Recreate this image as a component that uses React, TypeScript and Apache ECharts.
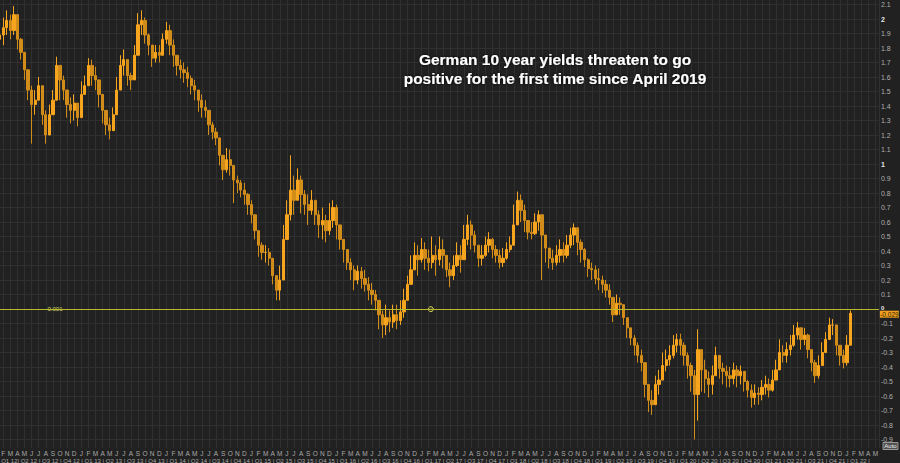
import React, { useEffect, useRef } from "react";
import * as echarts from "echarts";

// month index 0 = January 2012; candles are spaced half a month apart
const START_YEAR = 2012;
const STEP = 0.5;
const MONTH_LETTERS = ["J", "F", "M", "A", "M", "J", "J", "A", "S", "O", "N", "D"];

const TITLE_LINES = [
  "German 10 year yields threaten to go",
  "positive for the first time since April 2019",
];

const FIRST_OPEN = 1.8;
const LAST_VALUE = -0.029;
const REF_LINE = -0.001;
const REF_LABEL_MONTH = 8.15;
const REF_MARKER_MONTH = 61.3;

const closes = [
  1.86, 1.89, 1.94, 1.99, 1.92, 2.03, 1.86, 1.77, 1.65, 1.51,
  1.41, 1.44, 1.54, 1.34, 1.20, 1.34, 1.44, 1.68, 1.58, 1.51,
  1.41, 1.37, 1.42, 1.32, 1.48, 1.54, 1.68, 1.61, 1.58, 1.48,
  1.37, 1.27, 1.23, 1.34, 1.51, 1.68, 1.72, 1.61, 1.58, 1.75,
  1.96, 1.99, 1.89, 1.82, 1.73, 1.77, 1.75, 1.86, 1.92, 1.82,
  1.75, 1.68, 1.65, 1.63, 1.59, 1.54, 1.51, 1.44, 1.39, 1.37,
  1.27, 1.22, 1.18, 1.06, 0.96, 1.03, 0.99, 0.89, 0.87, 0.82,
  0.79, 0.72, 0.65, 0.54, 0.44, 0.39, 0.39, 0.35, 0.23, 0.13,
  0.20, 0.48, 0.65, 0.82, 0.75, 0.89, 0.79, 0.72, 0.68, 0.75,
  0.65, 0.58, 0.61, 0.54, 0.61, 0.70, 0.58, 0.48, 0.41, 0.32,
  0.27, 0.20, 0.26, 0.21, 0.17, 0.13, 0.10, 0.06, -0.04, -0.11,
  -0.06, -0.09, -0.04, -0.08, -0.02, 0.06, 0.17, 0.27, 0.37, 0.34,
  0.41, 0.35, 0.32, 0.37, 0.34, 0.41, 0.37, 0.27, 0.23, 0.30,
  0.37, 0.34, 0.48, 0.58, 0.51, 0.44, 0.35, 0.37, 0.44, 0.48,
  0.41, 0.37, 0.32, 0.35, 0.41, 0.44, 0.58, 0.75, 0.68, 0.61,
  0.53, 0.52, 0.60, 0.65, 0.51, 0.42, 0.35, 0.32, 0.37, 0.41,
  0.37, 0.44, 0.51, 0.56, 0.46, 0.41, 0.34, 0.28, 0.27, 0.21,
  0.20, 0.17, 0.13, 0.08, -0.04, 0.04, 0.03, -0.06, -0.13, -0.20,
  -0.25, -0.32, -0.37, -0.52, -0.63, -0.66, -0.52, -0.49, -0.39, -0.35,
  -0.32, -0.25, -0.21, -0.25, -0.32, -0.39, -0.46, -0.59, -0.28, -0.42,
  -0.48, -0.52, -0.46, -0.32, -0.41, -0.43, -0.46, -0.48, -0.42, -0.46,
  -0.43, -0.50, -0.56, -0.61, -0.58, -0.59, -0.54, -0.52, -0.56, -0.49,
  -0.42, -0.30, -0.32, -0.28, -0.25, -0.18, -0.13, -0.21, -0.18, -0.28,
  -0.37, -0.46, -0.39, -0.30, -0.21, -0.11, -0.11, -0.25, -0.32, -0.37,
  -0.25, -0.029,
];

const highs = [
  1.92, 1.96, 2.01, 2.06, 2.03, 2.09, 1.99, 1.87, 1.75, 1.65,
  1.54, 1.51, 1.60, 1.48, 1.37, 1.41, 1.51, 1.74, 1.68, 1.61,
  1.51, 1.46, 1.48, 1.41, 1.57, 1.61, 1.73, 1.72, 1.67, 1.56,
  1.44, 1.35, 1.32, 1.39, 1.60, 1.75, 1.79, 1.72, 1.63, 1.82,
  2.04, 2.06, 2.01, 1.90, 1.80, 1.82, 1.82, 1.90, 1.98, 1.96,
  1.86, 1.74, 1.72, 1.70, 1.67, 1.61, 1.58, 1.49, 1.48, 1.44,
  1.32, 1.29, 1.25, 1.14, 1.06, 1.11, 1.10, 0.96, 0.92, 0.89,
  0.87, 0.80, 0.75, 0.60, 0.51, 0.46, 0.44, 0.42, 0.32, 0.21,
  0.30, 0.58, 0.75, 1.06, 0.92, 0.97, 0.92, 0.82, 0.79, 0.82,
  0.72, 0.68, 0.70, 0.65, 0.73, 0.75, 0.72, 0.56, 0.48, 0.41,
  0.35, 0.30, 0.30, 0.29, 0.27, 0.22, 0.18, 0.13, 0.04, -0.01,
  0.03, -0.01, 0.03, 0.03, 0.06, 0.14, 0.23, 0.37, 0.46, 0.44,
  0.49, 0.46, 0.41, 0.50, 0.44, 0.50, 0.48, 0.37, 0.32, 0.37,
  0.46, 0.44, 0.58, 0.65, 0.61, 0.54, 0.44, 0.44, 0.50, 0.53,
  0.49, 0.44, 0.41, 0.42, 0.46, 0.50, 0.72, 0.81, 0.79, 0.72,
  0.61, 0.60, 0.66, 0.68, 0.61, 0.51, 0.42, 0.41, 0.44, 0.48,
  0.46, 0.51, 0.56, 0.59, 0.56, 0.48, 0.42, 0.35, 0.32, 0.30,
  0.28, 0.23, 0.20, 0.17, 0.06, 0.10, 0.08, 0.03, -0.06, -0.13,
  -0.18, -0.23, -0.28, -0.42, -0.52, -0.56, -0.46, -0.42, -0.30, -0.28,
  -0.25, -0.18, -0.17, -0.17, -0.23, -0.30, -0.37, -0.42, -0.14, -0.30,
  -0.35, -0.43, -0.39, -0.26, -0.32, -0.37, -0.39, -0.40, -0.37, -0.39,
  -0.39, -0.43, -0.49, -0.52, -0.52, -0.54, -0.49, -0.46, -0.48, -0.42,
  -0.35, -0.21, -0.25, -0.23, -0.18, -0.11, -0.09, -0.14, -0.13, -0.17,
  -0.30, -0.35, -0.32, -0.23, -0.16, -0.06, -0.07, -0.14, -0.25, -0.28,
  -0.18, -0.01,
];

const lows = [
  1.75, 1.79, 1.82, 1.89, 1.86, 1.89, 1.79, 1.72, 1.58, 1.44,
  1.14, 1.34, 1.44, 1.27, 1.14, 1.25, 1.37, 1.48, 1.44, 1.44,
  1.32, 1.28, 1.30, 1.26, 1.37, 1.48, 1.58, 1.54, 1.51, 1.39,
  1.28, 1.20, 1.17, 1.26, 1.44, 1.58, 1.61, 1.54, 1.51, 1.65,
  1.82, 1.89, 1.83, 1.75, 1.67, 1.70, 1.70, 1.75, 1.83, 1.75,
  1.67, 1.61, 1.59, 1.56, 1.53, 1.48, 1.44, 1.36, 1.32, 1.32,
  1.20, 1.17, 1.13, 0.99, 0.89, 0.94, 0.92, 0.73, 0.80, 0.77,
  0.72, 0.65, 0.59, 0.48, 0.36, 0.34, 0.32, 0.30, 0.17, 0.06,
  0.06, 0.35, 0.51, 0.61, 0.65, 0.75, 0.66, 0.65, 0.58, 0.65,
  0.58, 0.49, 0.48, 0.46, 0.51, 0.56, 0.48, 0.41, 0.32, 0.27,
  0.20, 0.13, 0.17, 0.14, 0.12, 0.06, 0.03, -0.01, -0.14, -0.20,
  -0.18, -0.16, -0.13, -0.14, -0.11, -0.06, 0.06, 0.17, 0.28, 0.23,
  0.32, 0.27, 0.26, 0.28, 0.23, 0.30, 0.28, 0.22, 0.15, 0.20,
  0.29, 0.25, 0.37, 0.44, 0.41, 0.39, 0.29, 0.30, 0.36, 0.39,
  0.35, 0.32, 0.28, 0.29, 0.34, 0.39, 0.48, 0.65, 0.60, 0.53,
  0.48, 0.48, 0.51, 0.54, 0.20, 0.32, 0.28, 0.27, 0.30, 0.32,
  0.32, 0.35, 0.42, 0.44, 0.37, 0.32, 0.29, 0.22, 0.20, 0.17,
  0.13, 0.11, 0.08, 0.03, -0.09, -0.03, -0.04, -0.11, -0.20, -0.25,
  -0.32, -0.37, -0.43, -0.61, -0.71, -0.73, -0.63, -0.59, -0.48, -0.43,
  -0.39, -0.34, -0.30, -0.32, -0.39, -0.48, -0.57, -0.90, -0.77, -0.57,
  -0.58, -0.61, -0.59, -0.43, -0.48, -0.52, -0.54, -0.54, -0.52, -0.54,
  -0.52, -0.57, -0.61, -0.68, -0.66, -0.66, -0.63, -0.59, -0.61, -0.57,
  -0.49, -0.39, -0.37, -0.37, -0.32, -0.26, -0.21, -0.28, -0.25, -0.34,
  -0.43, -0.51, -0.48, -0.37, -0.28, -0.20, -0.18, -0.32, -0.39, -0.41,
  -0.39, -0.25,
];

const X_MAX = 124.5;
const Y_MIN = -0.9;
const Y_MAX = 2.1;

const FONT = "'Liberation Sans', Arial, sans-serif";
const BG = "#212121";
const GRID_LINE = "#303030";
const UP = "#f7a41e";
const DOWN = "#d18c1a";
const REF_COLOR = "#b9b92c";
const AXIS_TEXT = "#a9a9a9";

function fmtY(v: number): string {
  const r = Math.round(v * 10) / 10;
  if (Math.abs(r) < 1e-9) return "{z|0}";
  if (Math.abs(r - Math.round(r)) < 1e-9) return "{b|" + String(Math.round(r)) + "}";
  return String(r);
}

function fmtQuarter(v: number): string {
  if (!Number.isInteger(v) || v % 3 !== 0) return "";
  if (v >= 123) return v === 123 ? "|" : "";
  const q = (v % 12) / 3 + 1;
  const yy = String(START_YEAR + Math.floor(v / 12)).slice(2);
  // the first quarter's separator falls just outside the plot
  if (v === 0) return "{p|Q" + q + " " + yy + "}";
  return "| Q" + q + " " + yy;
}

function fmtMonth(v: number): string {
  // January 2012 sits just outside the left edge, so it has no label
  if (!Number.isInteger(v) || v === 0) return "";
  return MONTH_LETTERS[v % 12];
}

export default function App() {
  const ref = useRef<HTMLDivElement>(null);

  useEffect(() => {
    if (!ref.current) return;
    const chart = echarts.init(ref.current, null, { renderer: "svg" });

    const candles = closes.map((c, k) => {
      const o = k === 0 ? FIRST_OPEN : closes[k - 1];
      const h = Math.max(highs[k], o, c);
      const l = Math.min(lows[k], o, c);
      return [k * STEP, o, c, l, h];
    });

    const gridLeft = -3.8;
    const gridWidth = 882.7;

    chart.setOption({
      animation: false,
      backgroundColor: BG,
      textStyle: { fontFamily: FONT },
      grid: [
        {
          left: gridLeft,
          width: gridWidth,
          top: 4.5,
          height: 435,
          containLabel: false,
          outerBoundsMode: "none",
        },
        {
          left: gridLeft,
          width: gridWidth,
          top: 0,
          height: 448,
          containLabel: false,
          outerBoundsMode: "none",
        },
      ],
      xAxis: [
        {
          gridIndex: 0,
          type: "value",
          min: 0,
          max: X_MAX,
          interval: 3,
          position: "bottom",
          axisLine: { show: false },
          axisTick: { show: false },
          splitLine: { show: false },
          axisLabel: {
            margin: 18,
            align: "left",
            fontSize: 6,
            color: AXIS_TEXT,
            fontFamily: FONT,
            hideOverlap: false,
            formatter: fmtQuarter,
            rich: {
              p: { fontSize: 6, color: AXIS_TEXT, fontFamily: FONT, padding: [0, 0, 0, 5] },
            },
          },
        },
        {
          gridIndex: 1,
          type: "value",
          min: 0,
          max: X_MAX,
          interval: 1,
          position: "bottom",
          axisLine: { show: false },
          axisTick: { show: false },
          splitLine: { show: true, lineStyle: { color: GRID_LINE, width: 1 } },
          axisLabel: {
            margin: 2,
            fontSize: 6.5,
            color: AXIS_TEXT,
            fontFamily: FONT,
            hideOverlap: false,
            formatter: fmtMonth,
          },
        },
      ],
      yAxis: [
        {
          gridIndex: 0,
          type: "value",
          position: "right",
          min: Y_MIN,
          max: Y_MAX,
          interval: 0.1,
          axisLine: { show: true, lineStyle: { color: "#4a4a4a" } },
          axisTick: { show: true, length: 3, lineStyle: { color: "#8c8c8c" } },
          splitLine: { show: true, lineStyle: { color: GRID_LINE, width: 1 } },
          axisLabel: {
            margin: 2,
            fontSize: 7,
            color: "#b0b0b0",
            fontFamily: FONT,
            formatter: fmtY,
            rich: {
              b: { fontSize: 7, fontWeight: "bold", color: "#e6e6e6", fontFamily: FONT },
              z: {
                fontSize: 6,
                fontWeight: "bold",
                color: "#e6e6e6",
                fontFamily: FONT,
                lineHeight: 6,
                padding: [0, 0, 3, 0],
              },
            },
          },
        },
        { gridIndex: 1, type: "value", min: 0, max: 1, show: false },
      ],
      series: [
        {
          type: "candlestick",
          xAxisIndex: 0,
          yAxisIndex: 0,
          data: candles,
          barWidth: 2.8,
          clip: false,
          itemStyle: {
            color: UP,
            color0: DOWN,
            borderColor: UP,
            borderColor0: DOWN,
            borderWidth: 1,
          },
          markLine: {
            silent: true,
            symbol: ["none", "none"],
            animation: false,
            label: { show: false },
            lineStyle: { color: REF_COLOR, width: 1, type: "solid" },
            data: [{ yAxis: REF_LINE }],
          },
        },
      ],
    });

    const finder = { xAxisIndex: 0, yAxisIndex: 0 };
    const refLbl = chart.convertToPixel(finder, [REF_LABEL_MONTH, REF_LINE]) as number[];
    const refMk = chart.convertToPixel(finder, [REF_MARKER_MONTH, REF_LINE]) as number[];
    const lastPt = chart.convertToPixel(finder, [0, LAST_VALUE]) as number[];
    const rightEdge = chart.convertToPixel(finder, [X_MAX, 0]) as number[];

    chart.setOption({
      graphic: [
        {
          type: "text",
          x: 555,
          y: 59,
          style: {
            text: TITLE_LINES[0],
            fill: "#ffffff",
            fontSize: 15.5,
            fontWeight: "bold",
            fontFamily: FONT,
            textAlign: "center",
            textVerticalAlign: "middle",
            textShadowColor: "#000",
            textShadowBlur: 3,
          },
        },
        {
          type: "text",
          x: 555,
          y: 78,
          style: {
            text: TITLE_LINES[1],
            fill: "#ffffff",
            fontSize: 15.5,
            fontWeight: "bold",
            fontFamily: FONT,
            textAlign: "center",
            textVerticalAlign: "middle",
            textShadowColor: "#000",
            textShadowBlur: 3,
          },
        },
        {
          type: "rect",
          shape: { x: refLbl[0] - 9, y: refLbl[1] - 3.5, width: 18, height: 7, r: 1 },
          style: { fill: "#262626" },
        },
        {
          type: "text",
          x: refLbl[0],
          y: refLbl[1],
          style: {
            text: REF_LINE.toFixed(3),
            fill: "#d0d060",
            fontSize: 6,
            fontFamily: FONT,
            textAlign: "center",
            textVerticalAlign: "middle",
          },
        },
        {
          type: "circle",
          shape: { cx: refMk[0], cy: refMk[1], r: 2.5 },
          style: { fill: "#3a3a20", stroke: "#d0d060", lineWidth: 1 },
        },
        {
          type: "rect",
          shape: { x: rightEdge[0] + 1, y: lastPt[1] - 2.5, width: 19, height: 7 },
          style: { fill: "#f0a020" },
        },
        {
          type: "text",
          x: rightEdge[0] + 10.5,
          y: lastPt[1] + 1,
          style: {
            text: LAST_VALUE.toFixed(3),
            fill: "#2a1d00",
            fontSize: 6.5,
            fontFamily: FONT,
            textAlign: "center",
            textVerticalAlign: "middle",
          },
        },
        {
          type: "rect",
          shape: { x: 883, y: 442.5, width: 15, height: 7 },
          style: { fill: "#505050", stroke: "#b0b0b0", lineWidth: 0.8 },
        },
        {
          type: "text",
          x: 890.5,
          y: 446,
          style: {
            text: "Auto",
            fill: "#f0f0f0",
            fontSize: 6,
            fontFamily: FONT,
            textAlign: "center",
            textVerticalAlign: "middle",
          },
        },
      ],
    });

    return () => chart.dispose();
  }, []);

  return (
    <div
      ref={ref}
      style={{ position: "fixed", left: 0, top: 0, width: 900, height: 463 }}
    />
  );
}
